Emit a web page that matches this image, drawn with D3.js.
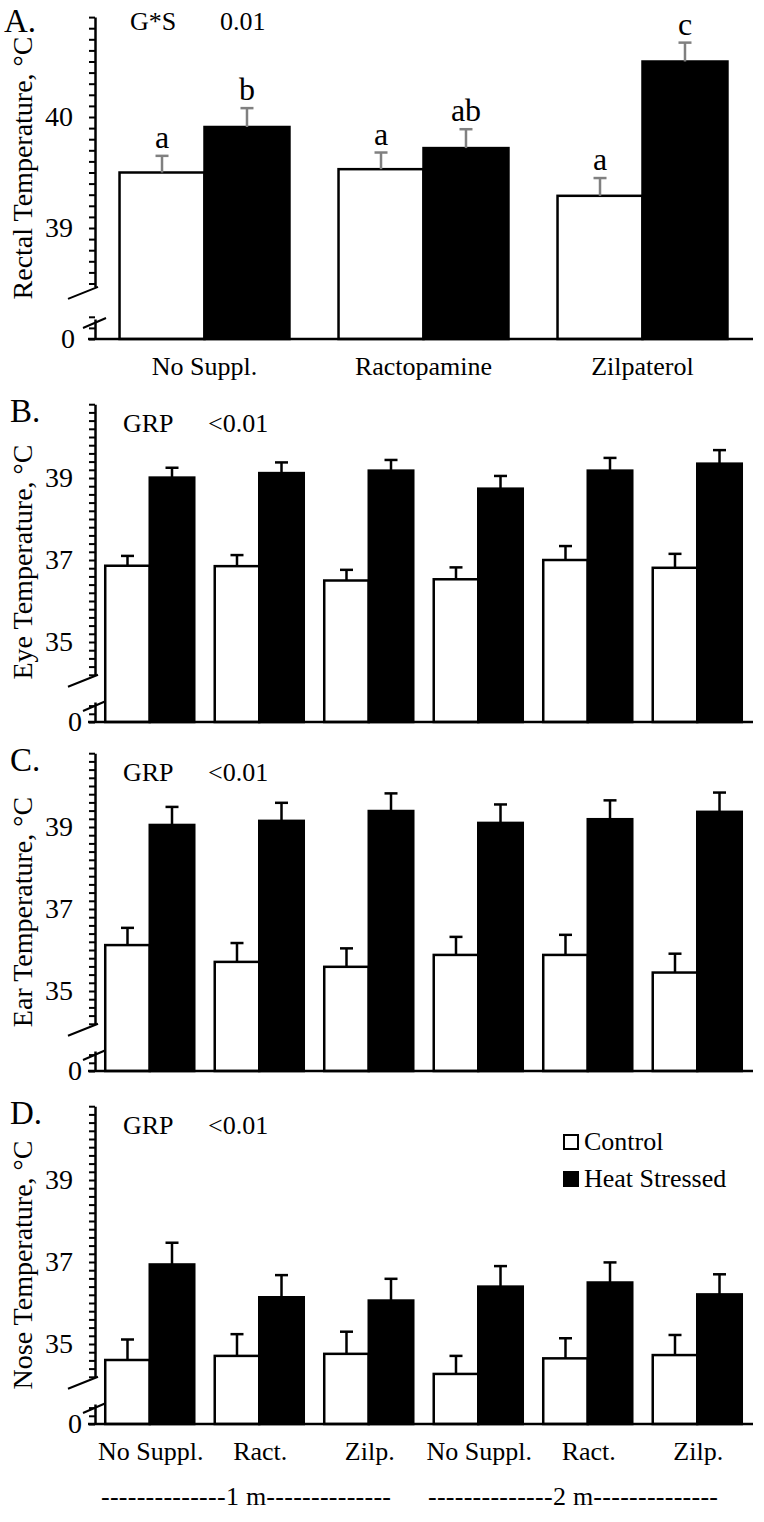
<!DOCTYPE html>
<html>
<head>
<meta charset="utf-8">
<script src="https://cdn.jsdelivr.net/npm/d3@7"></script>
<style>
  body { margin: 0; background: #fff; }
  svg { display: block; }
</style>
</head>
<body>
<script>
// ---- data ----
var catsA = ["No Suppl.", "Ractopamine", "Zilpaterol"];
var rectalCtrl = [39.50, 39.53, 39.29];
var rectalCtrlSE = [0.15, 0.15, 0.16];
var rectalHS = [39.91, 39.72, 40.50];
var rectalHSSE = [0.17, 0.17, 0.17];
var rectalCtrlLetters = ["a", "a", "a"];
var rectalHSLetters = ["b", "ab", "c"];

var cats6 = ["No Suppl.", "Ract.", "Zilp.", "No Suppl.", "Ract.", "Zilp."];
var months = ["1 m", "2 m"];

var eyeCtrl = [36.86, 36.85, 36.50, 36.53, 37.00, 36.81];
var eyeCtrlSE = [0.24, 0.27, 0.26, 0.29, 0.34, 0.34];
var eyeHS = [39.01, 39.12, 39.18, 38.74, 39.18, 39.35];
var eyeHSSE = [0.24, 0.26, 0.26, 0.31, 0.31, 0.33];

var earCtrl = [36.12, 35.71, 35.59, 35.88, 35.88, 35.45];
var earCtrlSE = [0.42, 0.46, 0.45, 0.44, 0.49, 0.46];
var earHS = [39.05, 39.15, 39.39, 39.10, 39.19, 39.37];
var earHSSE = [0.44, 0.44, 0.43, 0.45, 0.46, 0.47];

var noseCtrl = [34.61, 34.71, 34.76, 34.27, 34.65, 34.73];
var noseCtrlSE = [0.50, 0.53, 0.54, 0.44, 0.49, 0.49];
var noseHS = [36.94, 36.14, 36.06, 36.40, 36.50, 36.21];
var noseHSSE = [0.53, 0.54, 0.53, 0.50, 0.49, 0.49];

var legendKeys = ["Control", "Heat Stressed"];

// ---- drawing ----
var W = 764, H = 1522;
var svg = d3.select("body").append("svg").attr("width", W).attr("height", H)
  .attr("font-family", "'Liberation Serif', 'Times New Roman', Times, serif");
svg.append("rect").attr("width", W).attr("height", H).attr("fill", "#fff");

var axisX = 95, axisRight = 753;

function drawPanel(p) {
  var g = svg.append("g");
  var n = p.cats.length;
  var x = d3.scaleBand().domain(d3.range(n)).range([axisX, 752])
            .paddingInner(p.padIn).paddingOuter(p.padIn / 2);
  var half = x.bandwidth() / 2;

  // upper (broken) segment scale
  var y = d3.scaleLinear().domain([p.lo, p.hi]).range([p.yLo, p.yHi]);
  var ticks = d3.range(Math.round((p.hi - p.tick0) / p.step) + 1).map(function(i) {
    return +(p.tick0 + i * p.step).toFixed(2);
  });
  var yAxis = g.append("g")
    .attr("transform", "translate(" + axisX + ",0)")
    .call(d3.axisLeft(y).tickValues(ticks).tickSize(6).tickSizeOuter(0).tickPadding(16)
      .tickFormat(function(d) { return p.labels.indexOf(d) >= 0 ? d : ""; }));

  // lower segment near zero
  var y0 = d3.scaleLinear().domain([0, p.step * 20 / p.stepPx]).range([p.base, p.base - 20]);
  var lowAxis = g.append("g")
    .attr("transform", "translate(" + axisX + ",0)")
    .call(d3.axisLeft(y0).tickValues([0, p.step, 2 * p.step]).tickSize(6).tickSizeOuter(0)
      .tickPadding(p.zeroPad).tickFormat(function(d) { return d === 0 ? "0" : ""; }));

  [yAxis, lowAxis].forEach(function(a) {
    a.attr("font-family", null).attr("font-size", 28);
    a.select(".domain").attr("stroke", "#000").attr("stroke-width", 2.5);
    a.selectAll(".tick line").attr("stroke", "#000").attr("stroke-width", 2);
    a.selectAll(".tick text").attr("fill", "#000");
  });

  // break marks
  g.append("line").attr("x1", axisX - 27).attr("y1", p.yLo + 12).attr("x2", axisX + 3).attr("y2", p.yLo)
    .attr("stroke", "#000").attr("stroke-width", 2);
  g.append("line").attr("x1", axisX - 12).attr("y1", p.base - 11).attr("x2", axisX + 11).attr("y2", p.base - 21)
    .attr("stroke", "#000").attr("stroke-width", 2);

  // bars
  var rows = d3.range(n).map(function(i) {
    return [
      {i: i, k: 0, v: p.ctrl[i], se: p.ctrlSE[i], lab: p.ctrlLet ? p.ctrlLet[i] : null},
      {i: i, k: 1, v: p.hs[i], se: p.hsSE[i], lab: p.hsLet ? p.hsLet[i] : null}
    ];
  });
  var flat = [].concat.apply([], rows);

  g.selectAll("rect.bar").data(flat).enter().append("rect")
    .attr("class", "bar")
    .attr("x", function(d) { return x(d.i) + d.k * half; })
    .attr("y", function(d) { return y(d.v); })
    .attr("width", half)
    .attr("height", function(d) { return p.base - y(d.v); })
    .attr("fill", function(d) { return d.k ? "#000" : "#fff"; })
    .attr("stroke", "#000").attr("stroke-width", 2.5);

  // error bars
  var eb = g.selectAll("g.err").data(flat).enter().append("g").attr("class", "err")
    .attr("stroke", p.errColor).attr("stroke-width", 2.5);
  eb.append("line")
    .attr("x1", function(d) { return x(d.i) + d.k * half + half / 2; })
    .attr("x2", function(d) { return x(d.i) + d.k * half + half / 2; })
    .attr("y1", function(d) { return y(d.v); })
    .attr("y2", function(d) { return y(d.v + d.se); });
  eb.append("line")
    .attr("x1", function(d) { return x(d.i) + d.k * half + half / 2 - 6.5; })
    .attr("x2", function(d) { return x(d.i) + d.k * half + half / 2 + 6.5; })
    .attr("y1", function(d) { return y(d.v + d.se); })
    .attr("y2", function(d) { return y(d.v + d.se); });

  // significance letters
  g.selectAll("text.sig").data(flat.filter(function(d) { return d.lab; })).enter().append("text")
    .attr("class", "sig")
    .attr("x", function(d) { return x(d.i) + d.k * half + half / 2; })
    .attr("y", function(d) { return y(d.v + d.se) - 8; })
    .attr("text-anchor", "middle").attr("font-size", 32)
    .text(function(d) { return d.lab; });

  // x axis line
  g.append("line").attr("x1", 88).attr("x2", axisRight).attr("y1", p.base).attr("y2", p.base)
    .attr("stroke", "#000").attr("stroke-width", 2.5);

  if (p.showX) {
    g.selectAll("text.xl").data(p.cats).enter().append("text")
      .attr("class", "xl")
      .attr("x", function(d, i) { return x(i) + half + (p.xShift || 0); })
      .attr("y", p.base + 36)
      .attr("text-anchor", "middle").attr("font-size", 26)
      .text(function(d) { return d; });
  }

  // panel letter, stats, title
  g.append("text").attr("x", p.letterX).attr("y", p.letterY).attr("font-size", 33).text(p.letter);
  g.append("text").attr("x", p.statX[0]).attr("y", p.statY).attr("font-size", 26).text(p.stat[0]);
  g.append("text").attr("x", p.statX[1]).attr("y", p.statY).attr("font-size", 26).text(p.stat[1]);
  g.append("text")
    .attr("transform", "translate(32," + p.titleY + ") rotate(-90)")
    .attr("text-anchor", "middle").attr("font-size", 28)
    .text(p.title);
  return x;
}

// Panel A
drawPanel({
  cats: catsA, padIn: 0.224,
  lo: 38.47, hi: 40.9, tick0: 38.5, step: 0.1, stepPx: 11.1, labels: [39, 40],
  yLo: 228 + 0.53 * 111, yHi: 228 - 1.9 * 111, base: 339, zeroPad: 14,
  ctrl: rectalCtrl, ctrlSE: rectalCtrlSE, hs: rectalHS, hsSE: rectalHSSE,
  ctrlLet: rectalCtrlLetters, hsLet: rectalHSLetters,
  errColor: "#808080", showX: true,
  letter: "A.", letterX: 4, letterY: 32,
  stat: ["G*S", "0.01"], statX: [130, 220], statY: 30,
  title: "Rectal Temperature, \u00B0C", titleY: 168
});

function thermal(y39, letter, title, titleY, ctrl, ctrlSE, hs, hsSE, showX) {
  return drawPanel({
    cats: cats6, padIn: 0.187,
    lo: 34.2, hi: 40.8, tick0: 34.2, step: 0.2, stepPx: 8.2, labels: [35, 37, 39],
    yLo: y39 + 4.8 * 41, yHi: y39 - 1.8 * 41, base: y39 + 244, zeroPad: 7,
    ctrl: ctrl, ctrlSE: ctrlSE, hs: hs, hsSE: hsSE,
    errColor: "#000", showX: showX, xShift: 1,
    letter: letter, letterX: 10, letterY: y39 - 56,
    stat: ["GRP", "<0.01"], statX: [123, 208], statY: y39 - 46,
    title: title, titleY: titleY
  });
}

thermal(478, "B.", "Eye Temperature, \u00B0C", 562, eyeCtrl, eyeCtrlSE, eyeHS, eyeHSSE, false);
thermal(827, "C.", "Ear Temperature, \u00B0C", 912, earCtrl, earCtrlSE, earHS, earHSSE, false);
thermal(1180, "D.", "Nose Temperature, \u00B0C", 1265, noseCtrl, noseCtrlSE, noseHS, noseHSSE, true);

// month brackets under panel D
var dash = "--------------";
[246, 573].forEach(function(cx, i) {
  svg.append("text").attr("x", cx).attr("y", 1505).attr("text-anchor", "middle")
    .attr("font-size", 26).attr("textLength", 290).attr("lengthAdjust", "spacing")
    .text(dash + months[i] + dash);
});

// legend
var leg = svg.append("g").selectAll("g").data(legendKeys).enter().append("g")
  .attr("transform", function(d, i) { return "translate(564," + (1135 + i * 37) + ")"; });
leg.append("rect").attr("width", 14).attr("height", 14)
  .attr("fill", function(d, i) { return i ? "#000" : "#fff"; })
  .attr("stroke", "#000").attr("stroke-width", 2);
leg.append("text").attr("x", 20).attr("y", 15).attr("font-size", 26).text(function(d) { return d; });
</script>
</body>
</html>
